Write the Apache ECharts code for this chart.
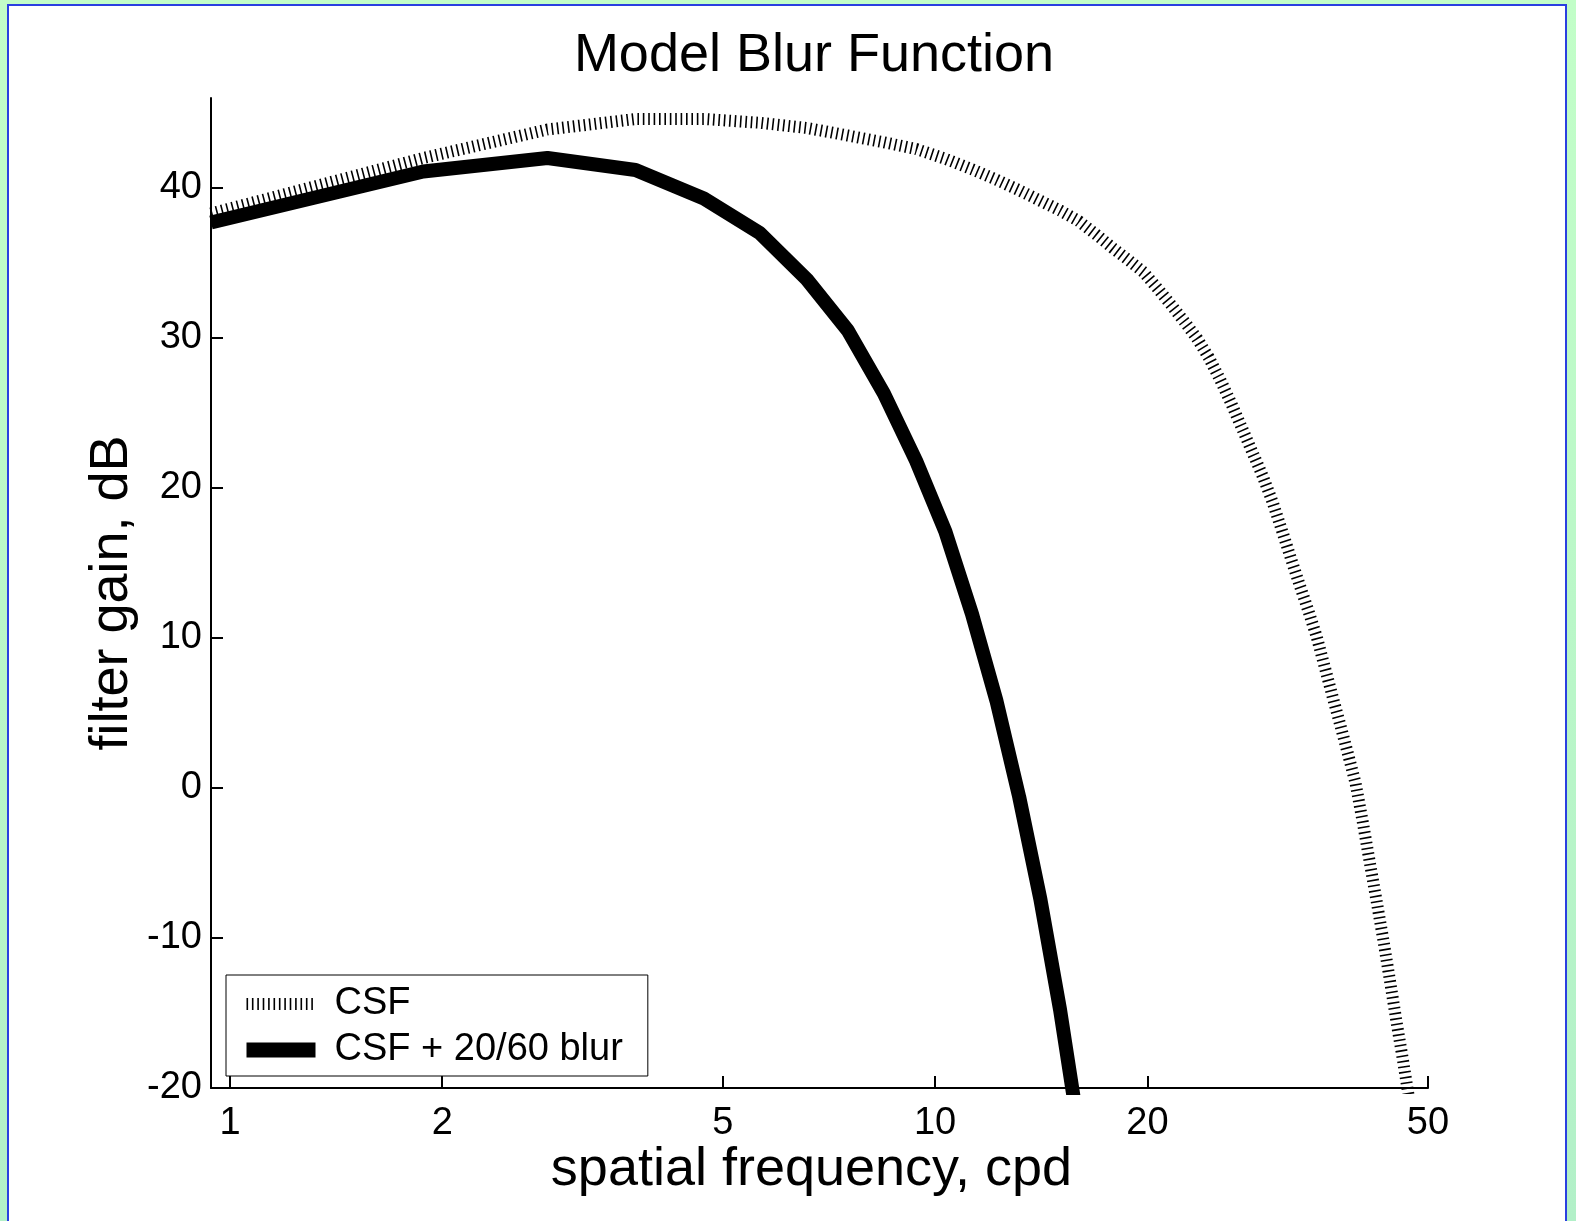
<!DOCTYPE html>
<html><head><meta charset="utf-8">
<script src="https://cdn.jsdelivr.net/npm/echarts@6/dist/echarts.min.js"></script>
<style>
html,body{margin:0;padding:0;width:1576px;height:1221px;overflow:hidden;background:linear-gradient(#c2fec8,#b2f0c8);}
#frame{position:absolute;left:7px;top:4px;width:1560px;height:1300px;background:#fff;border:2px solid #2a40e0;box-sizing:border-box;}
#chart{position:absolute;left:0;top:0;width:1576px;height:1221px;}
</style></head><body><div id="frame"></div><div id="chart"></div>
<script>
// spatial frequency samples (cpd)
const csfFreq = [0.94,1.88,2.82,3.76,4.70,5.64,6.58,7.52,8.46,9.40,10.34,11.28,12.22,13.16,14.10,15.04,15.98,16.92,17.86,18.80,19.74,20.68,21.62,22.56,23.50,24.44,25.38,26.32,27.26,28.20,29.14,30.08,31.02,31.96,32.90,33.84,34.78,35.72,36.66,37.60,38.54,39.48,40.42,41.36,42.30,43.24,44.18,45.12,46.06,47.00];
// CSF gain (dB)
const csfGain = [38.3,42.0,43.9,44.6,44.6,44.35,44.0,43.5,43.05,42.6,41.95,41.25,40.55,39.85,39.15,38.5,37.8,36.9,36.0,35.2,34.4,33.3,32.2,31.1,30.0,28.7,27.2,25.6,23.95,22.35,20.8,19.1,17.2,15.3,13.5,11.8,10.05,8.0,6.0,4.1,2.2,0.3,-2.3,-5.0,-7.6,-10.2,-12.9,-15.6,-18.1,-20.7];
// CSF + 20/60 blur
const blurFreq = [0.94,1.88,2.82,3.76,4.70,5.64,6.58,7.52,8.46,9.40,10.34,11.28,12.22,13.16,14.10,15.04,15.98];
const blurGain = [37.7,41.1,42.0,41.2,39.3,37.0,33.9,30.5,26.3,21.8,17.1,11.6,5.8,-0.6,-7.4,-14.8,-22.8];
const xTicks = [1,2,5,10,20,50];
const yTicks = [-20,-10,0,10,20,30,40];
const seriesNames = ['CSF','CSF + 20/60 blur'];
const titleText = 'Model Blur Function';
const xName = 'spatial frequency, cpd';
const yName = 'filter gain, dB';

const FONT = '"Liberation Sans", Arial, sans-serif';
const chart = echarts.init(document.getElementById('chart'), null, {renderer:'canvas'});
const zip = (a,b)=>a.map((v,i)=>[v,b[i]]);
chart.setOption({
  backgroundColor:'transparent',
  animation:false,
  title:{text:titleText,left:809,top:24,textAlign:'center',
    textStyle:{fontFamily:FONT,fontSize:54,fontWeight:'normal',color:'#000'}},
  grid:{left:211,top:98,right:148,bottom:133},
  legend:{
    orient:'vertical',left:226,top:975,
    backgroundColor:'#fff',borderColor:'#000',borderWidth:1,borderRadius:0,
    padding:[9,25,6,13],itemGap:6,itemWidth:69,itemHeight:14,
    itemStyle:{color:'transparent',borderWidth:0,opacity:0},
    textStyle:{fontFamily:FONT,fontSize:38,color:'#000',lineHeight:40,padding:[0,0,0,14]},
    data:[{name:seriesNames[0],lineStyle:{width:12}},{name:seriesNames[1],lineStyle:{width:15}}]
  },
  xAxis:{type:'log',logBase:10,min:0.94,max:50,
    name:xName,nameLocation:'middle',nameGap:55,nameMoveOverlap:false,
    nameTextStyle:{fontFamily:FONT,fontSize:54,color:'#000',padding:[0,16,0,0]},
    axisLine:{onZero:false,lineStyle:{color:'#000',width:2}},
    axisTick:{inside:true,length:12,lineStyle:{color:'#000',width:2},customValues:xTicks},
    axisLabel:{fontFamily:FONT,fontSize:38,color:'#000',margin:17,customValues:xTicks,
      formatter:v=>String(Number(Number(v).toPrecision(3)))},
    splitLine:{show:false},minorTick:{show:false}},
  yAxis:{type:'value',min:-20,max:46,interval:10,
    name:yName,nameLocation:'middle',nameGap:72,nameRotate:90,nameMoveOverlap:false,
    nameTextStyle:{fontFamily:FONT,fontSize:54,color:'#000'},
    axisLine:{show:true,onZero:false,lineStyle:{color:'#000',width:2}},
    axisTick:{show:true,inside:true,length:12,lineStyle:{color:'#000',width:2},customValues:yTicks},
    axisLabel:{fontFamily:FONT,fontSize:38,color:'#000',margin:9,customValues:yTicks},
    splitLine:{show:false}},
  series:[
    {name:seriesNames[0],type:'line',data:zip(csfFreq,csfGain),symbol:'none',legendIcon:'none',z:2,
      itemStyle:{color:'#000'},
      lineStyle:{color:'#000',width:12,type:[1.6,3.8],cap:'butt'}},
    {name:seriesNames[1],type:'line',data:zip(blurFreq,blurGain),symbol:'none',legendIcon:'none',z:3,
      itemStyle:{color:'#000'},
      lineStyle:{color:'#000',width:14,type:'solid'}}
  ]
});
</script></body></html>
